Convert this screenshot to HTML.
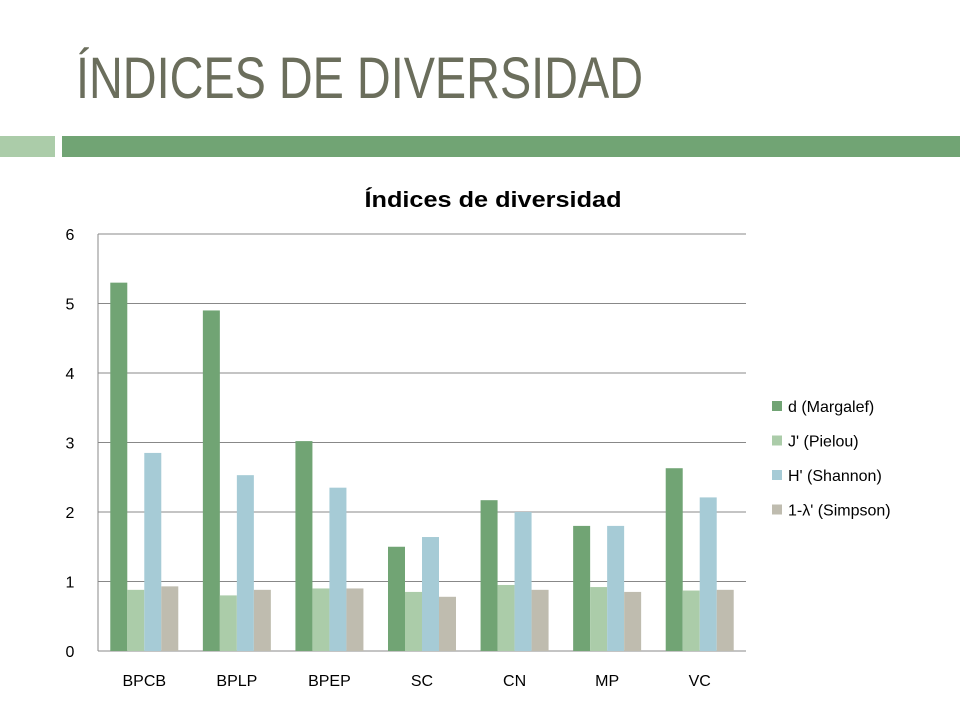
<!DOCTYPE html>
<html><head><meta charset="utf-8"><style>
html,body{margin:0;padding:0;background:#fff;}
svg{display:block;font-family:"Liberation Sans",sans-serif;}
</style></head><body>
<svg id="c" width="960" height="720" viewBox="0 0 960 720">
<text x="76" y="98" font-size="58" fill="#6b6e5c" textLength="567" lengthAdjust="spacingAndGlyphs">ÍNDICES DE DIVERSIDAD</text>
<rect x="0" y="136" width="55" height="21" fill="#abcca9"/>
<rect x="62" y="136" width="898" height="21" fill="#71a474"/>
<text x="493" y="207" font-size="22" font-weight="bold" text-anchor="middle" fill="#000" textLength="257" lengthAdjust="spacingAndGlyphs">Índices de diversidad</text>
<g id="grid"></g><g id="bars"></g><g id="axes"></g><g id="legend"></g>
</svg>
<script>
const categories=["BPCB","BPLP","BPEP","SC","CN","MP","VC"];
const margalef=[5.3,4.9,3.02,1.5,2.17,1.8,2.63];
const pielou=[0.88,0.8,0.9,0.85,0.95,0.92,0.87];
const shannon=[2.85,2.53,2.35,1.64,2.0,1.8,2.21];
const simpson=[0.93,0.88,0.9,0.78,0.88,0.85,0.88];
const yTicks=[0,1,2,3,4,5,6];
const seriesNames=["d (Margalef)","J' (Pielou)","H' (Shannon)","1-λ' (Simpson)"];
const NS="http://www.w3.org/2000/svg";
const colors=["#71a474","#abcca9","#a6cbd6","#bfbcaf"];
const series=[margalef,pielou,shannon,simpson];
const x0=98,x1=746,y0=651,yTop=234,yMax=6;
const y=v=>y0-(v/yMax)*(y0-yTop);
const band=(x1-x0)/categories.length;
const bw=17;
function mk(tag,attrs,parent,txt){const e=document.createElementNS(NS,tag);for(const k in attrs)e.setAttribute(k,attrs[k]);if(txt!==undefined)e.textContent=txt;document.getElementById(parent).appendChild(e);return e;}
yTicks.forEach(t=>{
  const l=mk('line',{x1:x0,x2:x1,y1:y(t),y2:y(t),stroke:'#888','stroke-width':1},'grid');
  
  
  const tx=mk('text',{x:70,y:y(t)+6,'font-size':16,'text-anchor':'middle',fill:'#000'},'axes',String(t));
  
  
});
const ax=mk('line',{x1:x0,x2:x0,y1:yTop,y2:y0,stroke:'#888','stroke-width':1},'axes');


categories.forEach((c,i)=>{
  const gx=x0+band*i+(band-bw*4)/2;
  series.forEach((s,j)=>{
    const r=mk('rect',{x:gx+j*bw,y:y(s[i]),width:bw,height:y0-y(s[i]),fill:colors[j]},'bars');
    
    
  });
  const t=mk('text',{x:x0+band*(i+0.5),y:686,'font-size':16,'text-anchor':'middle',fill:'#000'},'axes',c);
  
  
});
seriesNames.forEach((n,j)=>{
  const yy=407+j*34.5;
  const r=mk('rect',{x:772,y:yy-6,width:10,height:10,fill:colors[j]},'legend');
  
  
  const t=mk('text',{x:788,y:yy+5,'font-size':16,fill:'#000'},'legend',n);
  
  
});
</script>
</body></html>
